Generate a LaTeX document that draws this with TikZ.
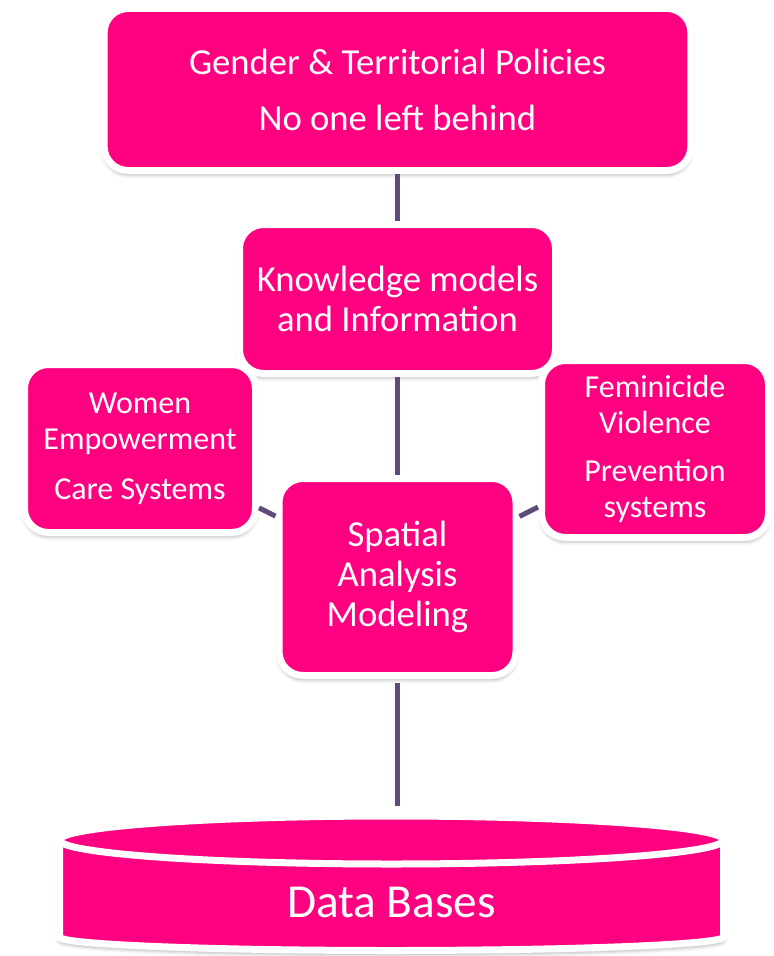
\documentclass[tikz,border=0pt]{standalone}
\usepackage{fontspec}
\setmainfont{Carlito}
\usepackage{tikz}
\usetikzlibrary{shadows.blur}

\definecolor{roze}{RGB}{255,0,128}
\definecolor{paars}{RGB}{96,74,123}

\tikzset{
  % Schaduw onder alles
  schaduw/.style={blur shadow={shadow xshift=0pt, shadow yshift=-3pt,
                 shadow blur radius=3pt, shadow opacity=35}},
  % De basisinstellingen voor de blokken
  blok/.style={%
    draw=white,
    line width=5.25pt,     % Witte rand om elk blok
    fill=roze,
    text=white,
    align=center,
    rounded corners=18pt,
    inner sep=0pt,
    schaduw
  },
  % Tekstgroottes
  groot/.style={blok, font=\fontsize{27.5}{30}\selectfont},
  klein/.style={blok, font=\fontsize{24}{27}\selectfont},
  % De ton onderaan
  ton/.style={fill=roze, draw=white, line width=5.25pt, schaduw},
  tonrand/.style={draw=white, line width=5.25pt},
  databank/.style={text=white, inner sep=0pt, font=\fontsize{35.5}{40}\selectfont},
  % Verbindingslijnen
  lijn/.style={draw=paars, line width=3.75pt}
}

\begin{document}
\begin{tikzpicture}[x=0.75pt, y=-0.75pt]
  \useasboundingbox (0,0) rectangle (774,956);

  % --- De blokken ---
  \node [groot, minimum width=440pt, minimum height=121.5pt] (beleid) at (397.5,89.5)
    {Gender \& Territorial Policies\\[12pt]No one left behind};

  \node [groot, minimum width=237pt, minimum height=111.75pt] (kennis) at (397.5,299)
    {Knowledge models\\and Information};

  \node [klein, minimum width=173.25pt, minimum height=126pt] (vrouwen) at (140,448.5)
    {Women\\Empowerment\\[10.5pt]Care Systems};

  \node [klein, minimum width=170.25pt, minimum height=132.75pt] (geweld) at (655,449)
    {Feminicide\\Violence\\[9pt]Prevention\\systems};

  \node [groot, minimum width=177.75pt, minimum height=147.75pt] (ruimte) at (397.5,577)
    {Spatial\\Analysis\\Modeling};

  % --- De ton ---
  \path [ton] (59.5,840) -- (59.5,937)
    arc [start angle=180, end angle=360, x radius=249pt, y radius=10.125pt]
    -- (723.5,840)
    arc [start angle=0, end angle=180, x radius=249pt, y radius=18pt] -- cycle;
  \draw [tonrand] (59.5,840)
    arc [start angle=180, end angle=360, x radius=249pt, y radius=18pt];
  \coordinate (ton) at (397.5,815.5);
  \node [databank] (data) at (391.5,902) {Data Bases};

  % --- De lijnen ---
  \draw [lijn] (beleid) -- (kennis);
  \draw [lijn] (kennis) -- (ruimte);
  \draw [lijn] (vrouwen) -- (ruimte);
  \draw [lijn] (geweld) -- (ruimte);
  \draw [lijn, shorten <=3pt, shorten >=7.5pt] (ruimte) -- (ton);

\end{tikzpicture}
\end{document}
